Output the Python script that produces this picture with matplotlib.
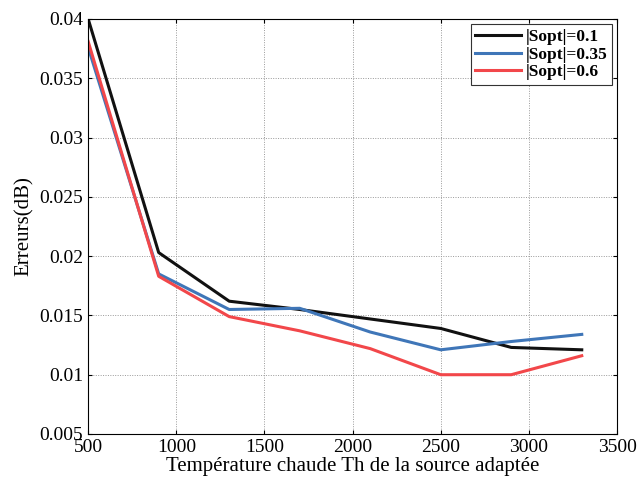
import matplotlib
matplotlib.use("Agg")
import matplotlib.pyplot as plt

# temperatures (x axis)
th = [500, 900, 1300, 1700, 2100, 2500, 2900, 3300]

# errors for each |Sopt|
err_01 = [0.0400, 0.0203, 0.0162, 0.0155, 0.0147, 0.0139, 0.0123, 0.0121]
err_035 = [0.0376, 0.0185, 0.0155, 0.0156, 0.0136, 0.0121, 0.0128, 0.0134]
err_06 = [0.0381, 0.0183, 0.0149, 0.0137, 0.0122, 0.0100, 0.0100, 0.0116]

labels = ["|Sopt|=0.1", "|Sopt|=0.35", "|Sopt|=0.6"]

plt.rcParams['font.family'] = ['Liberation Serif', 'DejaVu Serif']

fig = plt.figure(figsize=(6.39, 4.82), dpi=100)
ax = fig.add_axes([0.138, 0.0996, 0.8276, 0.861])

ax.plot(th, err_01, color="#111111", lw=2.2, label=labels[0])
ax.plot(th, err_035, color="#3f76b8", lw=2.2, label=labels[1])
ax.plot(th, err_06, color="#f2474a", lw=2.2, label=labels[2])

ax.set_xlim(500, 3500)
ax.set_ylim(0.005, 0.04)
ax.set_xticks([500, 1000, 1500, 2000, 2500, 3000, 3500])
ax.set_yticks([0.005, 0.01, 0.015, 0.02, 0.025, 0.03, 0.035, 0.04])
ax.set_yticklabels(["0.005", "0.01", "0.015", "0.02", "0.025", "0.03", "0.035", "0.04"])
ax.tick_params(direction="in", labelsize=14, top=True, right=True, length=3)
ax.grid(True, linestyle=(0, (1, 1.5)), color="#999999", lw=0.7)

ax.set_xlabel("Température chaude Th de la source adaptée", fontsize=15, labelpad=1)
ax.set_ylabel("Erreurs(dB)", fontsize=15, labelpad=4)

leg = ax.legend(loc="upper right", prop={"weight": "bold", "size": 12.5},
                fancybox=False, framealpha=1, edgecolor="#333333",
                handlelength=2.6, handletextpad=0.3, borderpad=0.25,
                labelspacing=0.1, borderaxespad=0.3)
leg.get_frame().set_linewidth(0.8)

fig.savefig("out.png", dpi=100)
